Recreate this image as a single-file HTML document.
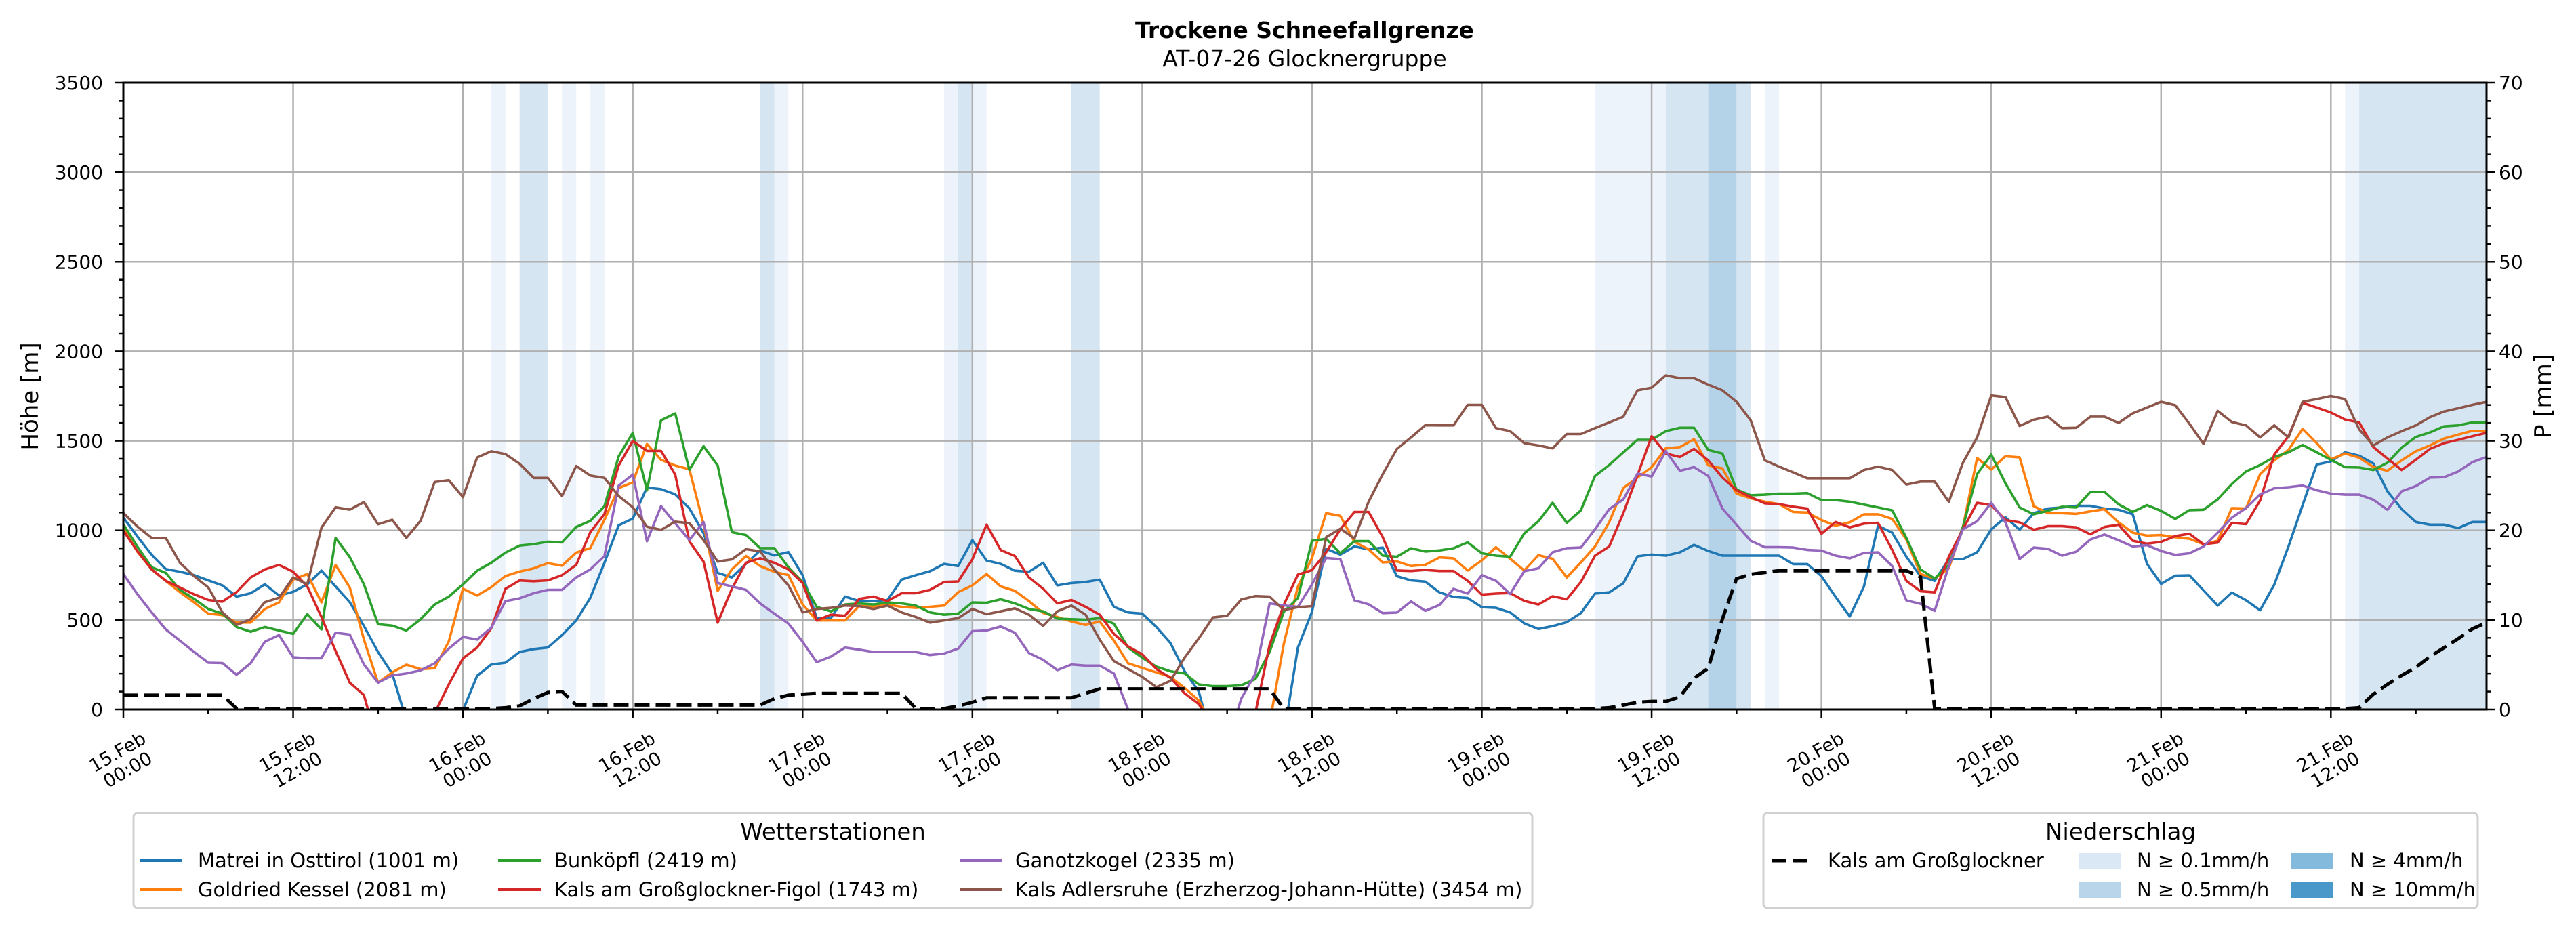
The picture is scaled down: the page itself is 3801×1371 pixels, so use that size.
<!DOCTYPE html>
<html><head><meta charset="utf-8"><title>Trockene Schneefallgrenze</title>
<style>
html,body{margin:0;padding:0;background:#fff;}
svg{display:block;font-family:"DejaVu Sans","Liberation Sans",sans-serif;}
</style></head>
<body>
<svg id="chart" width="3801" height="1371" viewBox="0 0 3801 1371" xmlns="http://www.w3.org/2000/svg">
<defs><clipPath id="plotclip"><rect x="182" y="122" width="3487" height="925"/></clipPath></defs>
<rect x="0" y="0" width="3801" height="1371" fill="#fff"/>
<g id="bands" clip-path="url(#plotclip)"></g>
<g id="grid"></g>
<g id="series" clip-path="url(#plotclip)"></g>
<g id="axes"></g>
<text x="1925" y="56" text-anchor="middle" font-size="33" font-weight="bold">Trockene Schneefallgrenze</text>
<text x="1925" y="98" text-anchor="middle" font-size="33">AT-07-26 Glocknergruppe</text>
<text transform="translate(56,585) rotate(-90)" text-anchor="middle" font-size="34">Höhe [m]</text>
<text transform="translate(3764,585) rotate(-90)" text-anchor="middle" font-size="34">P [mm]</text>

<g>
<rect x="197" y="1200" width="2064" height="140" rx="6" fill="#fff" stroke="#d0d0d0" stroke-width="3"/>
<text x="1229" y="1239" text-anchor="middle" font-size="34">Wetterstationen</text>
<g><line x1="207" y1="1270" x2="269" y2="1270" stroke="#1f77b4" stroke-width="4"/><text x="292" y="1280" font-size="29">Matrei in Osttirol (1001 m)</text></g>
<g><line x1="207" y1="1313" x2="269" y2="1313" stroke="#ff7f0e" stroke-width="4"/><text x="292" y="1323" font-size="29">Goldried Kessel (2081 m)</text></g>
<g><line x1="735" y1="1270" x2="798" y2="1270" stroke="#2ca02c" stroke-width="4"/><text x="818" y="1280" font-size="29">Bunköpfl (2419 m)</text></g>
<g><line x1="735" y1="1313" x2="798" y2="1313" stroke="#d62728" stroke-width="4"/><text x="818" y="1323" font-size="29">Kals am Großglockner-Figol (1743 m)</text></g>
<g><line x1="1416" y1="1270" x2="1478" y2="1270" stroke="#9467bd" stroke-width="4"/><text x="1498" y="1280" font-size="29">Ganotzkogel (2335 m)</text></g>
<g><line x1="1416" y1="1313" x2="1478" y2="1313" stroke="#8c564b" stroke-width="4"/><text x="1498" y="1323" font-size="29">Kals Adlersruhe (Erzherzog-Johann-Hütte) (3454 m)</text></g>
</g>

<g>
<rect x="2602" y="1200" width="1054" height="140" rx="6" fill="#fff" stroke="#d0d0d0" stroke-width="3"/>
<text x="3129" y="1239" text-anchor="middle" font-size="34">Niederschlag</text>
<g><line x1="2614" y1="1270" x2="2672" y2="1270" stroke="#000" stroke-width="5" stroke-dasharray="22,9"/><text x="2697" y="1280" font-size="29">Kals am Großglockner</text></g>
<g><rect x="3067" y="1259" width="62" height="23" fill="#dae8f5"/><text x="3153" y="1280" font-size="29">N ≥ 0.1mm/h</text></g>
<g><rect x="3067" y="1302" width="62" height="23" fill="#b9d5ea"/><text x="3153" y="1323" font-size="29">N ≥ 0.5mm/h</text></g>
<g><rect x="3381" y="1259" width="62" height="23" fill="#84bbdc"/><text x="3467" y="1280" font-size="29">N ≥ 4mm/h</text></g>
<g><rect x="3381" y="1302" width="62" height="23" fill="#4a97c9"/><text x="3467" y="1323" font-size="29">N ≥ 10mm/h</text></g>
</g>
</svg>
<script>
// ---- data ----
const hours = Array.from({length:168},(_,i)=>i);
const xTickLabels = ["15.Feb|00:00","15.Feb|12:00","16.Feb|00:00","16.Feb|12:00","17.Feb|00:00","17.Feb|12:00","18.Feb|00:00","18.Feb|12:00","19.Feb|00:00","19.Feb|12:00","20.Feb|00:00","20.Feb|12:00","21.Feb|00:00","21.Feb|12:00"];
const yTicks = [0,500,1000,1500,2000,2500,3000,3500];
const y2Ticks = [0,10,20,30,40,50,60,70];
const matrei = [1072,965,864,784,769,750,721,693,630,649,699,636,657,699,775,687,599,466,321,201,-60,-200,-200,-200,-5,188,251,261,321,337,346,415,497,623,819,1028,1066,1239,1230,1201,1123,984,763,737,813,888,860,879,750,510,510,630,605,605,611,725,750,772,813,801,946,832,813,775,769,819,693,706,712,725,573,542,535,460,371,213,100,-200,-200,-200,-200,-200,-150,346,545,897,865,910,894,904,744,721,714,654,628,622,571,567,542,481,449,465,487,538,647,654,705,855,865,859,878,919,885,859,859,859,859,859,812,812,744,628,519,686,1026,987,853,744,718,840,840,878,1006,1073,1004,1096,1122,1128,1137,1137,1122,1115,1090,814,701,747,749,665,580,653,610,554,697,910,1141,1368,1385,1436,1417,1374,1218,1119,1047,1032,1032,1013,1047,1047];
const goldried = [1010,880,782,718,655,598,535,527,485,485,561,598,725,756,598,807,681,390,150,207,250,225,230,380,674,636,683,745,770,788,817,803,876,901,1059,1236,1268,1482,1394,1362,1341,1034,662,782,857,801,769,750,586,497,497,497,578,573,586,573,567,573,580,655,693,756,687,662,605,539,516,491,472,491,384,258,232,207,182,120,50,-100,-300,-300,-300,-80,365,686,846,1096,1081,936,894,821,827,801,808,849,844,776,833,906,842,776,862,842,737,821,910,1045,1237,1295,1353,1458,1465,1509,1363,1346,1205,1179,1160,1147,1103,1100,1058,1026,1045,1090,1090,1064,949,756,731,788,1019,1404,1340,1414,1408,1135,1096,1096,1092,1106,1118,1045,987,971,974,962,953,923,942,1124,1122,1314,1391,1449,1567,1487,1397,1429,1406,1353,1333,1391,1442,1474,1513,1535,1556,1553];
const bunkoepfl = [1034,908,794,763,668,617,561,535,460,434,460,441,422,532,447,958,851,699,476,468,441,504,586,630,699,775,819,876,915,923,937,933,1019,1053,1135,1413,1545,1223,1615,1653,1337,1470,1362,990,974,901,901,794,712,573,548,586,592,586,598,592,580,542,529,535,598,596,615,592,561,548,507,504,501,510,479,346,289,239,213,201,140,130,130,135,170,320,545,622,942,953,872,940,940,859,853,900,882,888,900,933,872,859,853,983,1051,1154,1042,1112,1304,1365,1436,1506,1506,1554,1573,1573,1449,1429,1228,1196,1199,1205,1205,1208,1169,1169,1160,1144,1128,1112,958,782,731,808,1019,1314,1423,1263,1128,1090,1109,1132,1128,1215,1215,1145,1103,1141,1109,1064,1113,1115,1173,1259,1329,1365,1410,1436,1477,1436,1394,1353,1351,1337,1378,1462,1522,1547,1581,1586,1603,1603];
const kalsFigol = [998,883,782,718,681,643,611,602,655,737,782,807,769,687,516,327,150,80,-200,-200,-200,-200,-20,140,285,346,453,674,720,716,721,750,807,990,1091,1362,1499,1444,1444,1312,939,826,485,674,819,845,819,782,706,497,529,523,617,630,605,649,649,668,712,715,838,1032,890,857,737,674,592,611,573,529,422,352,308,226,176,90,30,-100,-300,-300,-20,360,583,753,778,878,1006,1103,1103,962,776,773,779,773,773,718,641,647,650,606,586,632,615,712,859,910,1096,1308,1526,1429,1410,1455,1391,1295,1224,1186,1151,1147,1132,1122,981,1047,1017,1038,1042,891,718,660,654,853,1006,1154,1141,1058,1045,1004,1023,1023,1017,978,1019,1032,942,926,936,968,981,923,932,1042,1035,1167,1423,1526,1712,1686,1658,1619,1603,1465,1401,1337,1394,1455,1487,1506,1526,1545];
const ganotzkogel = [756,643,542,447,384,321,261,259,194,258,378,415,291,286,286,428,418,251,150,190,201,218,258,340,405,390,456,605,620,649,668,668,737,782,857,1249,1312,939,1135,1040,946,1047,706,687,668,592,535,479,378,264,295,346,334,321,321,321,321,304,312,340,437,441,463,428,315,277,220,251,245,245,201,0,-200,-200,-200,-200,-200,-200,-200,60,200,592,581,573,699,846,840,609,587,538,541,603,551,583,673,647,750,718,645,772,788,878,901,904,1006,1118,1173,1317,1301,1442,1333,1353,1304,1122,1032,942,906,906,904,891,887,859,844,874,878,801,609,590,551,801,1006,1051,1154,1045,840,904,897,859,881,949,977,945,910,917,885,863,872,910,987,1071,1124,1201,1235,1241,1250,1224,1205,1199,1199,1171,1115,1218,1247,1295,1297,1329,1381,1410];
const adlersruhe = [1097,1021,958,958,819,744,681,542,472,504,599,624,737,699,1015,1129,1116,1158,1034,1059,958,1053,1270,1280,1186,1407,1442,1426,1372,1293,1293,1192,1359,1306,1293,1192,1129,1021,1003,1049,1040,946,826,838,895,883,782,693,542,561,567,580,577,561,580,542,516,485,497,510,561,532,548,565,529,466,548,580,529,390,270,226,182,125,160,290,397,514,523,614,633,630,555,571,577,962,1009,955,1160,1314,1455,1519,1587,1586,1586,1701,1701,1571,1554,1487,1474,1458,1538,1538,1571,1603,1635,1782,1797,1865,1849,1849,1814,1782,1718,1615,1391,1356,1324,1291,1291,1291,1291,1337,1356,1337,1256,1272,1272,1160,1378,1519,1753,1744,1583,1618,1635,1571,1573,1635,1635,1600,1654,1686,1718,1699,1596,1483,1667,1605,1586,1519,1586,1519,1718,1733,1750,1733,1564,1474,1519,1554,1586,1632,1664,1682,1701,1718];
const precip = [1.6,1.6,1.6,1.6,1.6,1.6,1.6,1.6,0.1,0.1,0.1,0.1,0.1,0.1,0.1,0.1,0.1,0.1,0.1,0.1,0.1,0.1,0.1,0.1,0.1,0.1,0.1,0.2,0.4,1.2,1.9,2.0,0.5,0.5,0.5,0.5,0.5,0.5,0.5,0.5,0.5,0.5,0.5,0.5,0.5,0.5,1.2,1.6,1.7,1.8,1.8,1.8,1.8,1.8,1.8,1.8,0.1,0.1,0.1,0.4,0.8,1.3,1.3,1.3,1.3,1.3,1.3,1.3,1.8,2.3,2.3,2.3,2.3,2.3,2.3,2.3,2.3,2.3,2.3,2.3,2.3,2.3,0.1,0.1,0.1,0.1,0.1,0.1,0.1,0.1,0.1,0.1,0.1,0.1,0.1,0.1,0.1,0.1,0.1,0.1,0.1,0.1,0.1,0.1,0.1,0.2,0.5,0.8,0.9,0.9,1.4,3.5,4.6,10.1,14.6,15.1,15.3,15.5,15.5,15.5,15.5,15.5,15.5,15.5,15.5,15.5,15.5,14.8,0.1,0.1,0.1,0.1,0.1,0.1,0.1,0.1,0.1,0.1,0.1,0.1,0.1,0.1,0.1,0.1,0.1,0.1,0.1,0.1,0.1,0.1,0.1,0.1,0.1,0.1,0.1,0.1,0.1,0.1,0.2,1.7,2.8,3.8,4.7,5.9,6.9,7.9,9.0,9.7];
const bandStart = [26,28,31,33,45,46,58,59,60,67,104,109,112,114,116,157,158];
const bandEnd   = [27,30,32,34,46,47,59,60,61,69,109,112,114,115,117,158,167.2];
const bandLevel = [1,2,1,1,2,1,1,2,1,2,1,2,3,2,1,1,2];

// ---- scales ----
const X0=182, X1=3669, Y0=1047, Y1=122, HMAX=167;
const NS="http://www.w3.org/2000/svg";
function xs(h){return X0+(X1-X0)*h/HMAX;}
function ys(m){return Y0-(Y0-Y1)*m/3500;}
function yp(mm){return Y0-(Y0-Y1)*mm/70;}
function mk(tag,attrs,parent){const e=document.createElementNS(NS,tag);for(const k in attrs)e.setAttribute(k,attrs[k]);parent.appendChild(e);return e;}
const bandColors=["","#edf3fa","#d5e5f2","#b4d3e8"];

const gB=document.getElementById('bands');
bandStart.forEach((s,i)=>{
  const r=mk('rect',{x:xs(s),y:Y1,width:xs(bandEnd[i])-xs(s),height:Y0-Y1,fill:bandColors[bandLevel[i]]},gB);
  
  
});

const gG=document.getElementById('grid');
for(let i=0;i<xTickLabels.length;i++){
  const x=xs(i*12);
  const l=mk('line',{x1:x,y1:Y1,x2:x,y2:Y0,stroke:'#b0b0b0','stroke-width':2.5},gG);
  
  
}
yTicks.forEach(v=>{
  const y=ys(v);
  const l=mk('line',{x1:X0,y1:y,x2:X1,y2:y,stroke:'#b0b0b0','stroke-width':2.5},gG);
  
  
});

const gS=document.getElementById('series');
const series=[[matrei,'#1f77b4','line-matrei'],[goldried,'#ff7f0e','line-goldried'],[bunkoepfl,'#2ca02c','line-bunkoepfl'],[kalsFigol,'#d62728','line-kals-figol'],[ganotzkogel,'#9467bd','line-ganotzkogel'],[adlersruhe,'#8c564b','line-adlersruhe']];
series.forEach(([d,c,n])=>{
  const pts=d.map((v,i)=>xs(hours[i]).toFixed(1)+','+ys(v).toFixed(1)).join(' ');
  const p=mk('polyline',{points:pts,fill:'none',stroke:c,'stroke-width':3.6,'stroke-linejoin':'round'},gS);
  
  
});
const pp=precip.map((v,i)=>xs(hours[i]).toFixed(1)+','+yp(v).toFixed(1)).join(' ');
const pl=mk('polyline',{points:pp,fill:'none',stroke:'#000','stroke-width':5,'stroke-dasharray':'22,9'},gS);



const gA=document.getElementById('axes');
const fr=mk('rect',{x:X0,y:Y1,width:X1-X0,height:Y0-Y1,fill:'none',stroke:'#000','stroke-width':3},gA);


for(let h=0;h<=HMAX;h+=6){
  const major=(h%12===0);
  mk('line',{x1:xs(h),y1:Y0,x2:xs(h),y2:Y0+(major?12:7),stroke:'#000','stroke-width':2.5},gA);
}
xTickLabels.forEach((lab,i)=>{
  const x=xs(i*12), parts=lab.split('|');
  const t=mk('text',{transform:`translate(${x-4},1118) rotate(-30)`,'text-anchor':'middle','font-size':27},gA);
  
  
  mk('tspan',{x:0,dy:0},t).textContent=parts[0];
  mk('tspan',{x:0,dy:30},t).textContent=parts[1];
});
for(let v=0;v<=3500;v+=100){
  const major=(v%500===0);
  mk('line',{x1:X0,y1:ys(v),x2:X0-(major?12:7),y2:ys(v),stroke:'#000','stroke-width':2.5},gA);
}
yTicks.forEach(v=>{
  const t=mk('text',{x:152,y:ys(v)+10,'text-anchor':'end','font-size':28},gA);
  t.textContent=v;
  
  
});
for(let v=0;v<=70;v+=2){
  const major=(v%10===0);
  mk('line',{x1:X1,y1:yp(v),x2:X1+(major?12:7),y2:yp(v),stroke:'#000','stroke-width':2.5},gA);
}
y2Ticks.forEach(v=>{
  const t=mk('text',{x:3687,y:yp(v)+10,'text-anchor':'start','font-size':28},gA);
  t.textContent=v;
  
  
});
</script>
</body></html>
